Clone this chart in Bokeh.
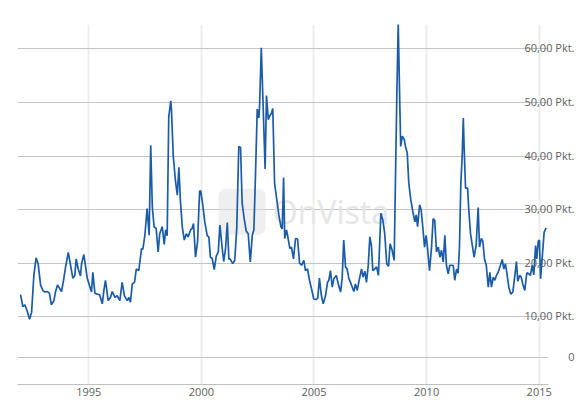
from bokeh.plotting import figure
from bokeh.models import Range1d, FixedTicker, BoxAnnotation, Label
from bokeh.core.properties import value
from bokeh.embed import file_html
from bokeh.resources import INLINE

years = [
    1991.97, 1992.07, 1992.16, 1992.26, 1992.37, 1992.46, 1992.56, 1992.66, 1992.75, 1992.86,
    1992.96, 1993.05, 1993.15, 1993.25, 1993.34, 1993.45, 1993.52, 1993.61, 1993.70, 1993.79,
    1993.89, 1993.97, 1994.09, 1994.19, 1994.29, 1994.38, 1994.44, 1994.53, 1994.63, 1994.68,
    1994.78, 1994.85, 1994.93, 1995.03, 1995.12, 1995.18, 1995.27, 1995.37, 1995.48, 1995.60,
    1995.67, 1995.74, 1995.86, 1995.96, 1996.04, 1996.16, 1996.26, 1996.38, 1996.48, 1996.59,
    1996.71, 1996.78, 1996.85, 1996.93, 1997.03, 1997.11, 1997.22, 1997.34, 1997.40, 1997.49,
    1997.59, 1997.68, 1997.75, 1997.82, 1997.90, 1997.99, 1998.08, 1998.15, 1998.26, 1998.35,
    1998.41, 1998.48, 1998.55, 1998.64, 1998.67, 1998.75, 1998.85, 1998.93, 1999.00, 1999.07,
    1999.15, 1999.24, 1999.33, 1999.41, 1999.52, 1999.59, 1999.65, 1999.74, 1999.83, 1999.92,
    1999.97, 2000.06, 2000.15, 2000.26, 2000.33, 2000.40, 2000.48, 2000.57, 2000.66, 2000.75,
    2000.82, 2000.92, 2000.99, 2001.07, 2001.15, 2001.22, 2001.29, 2001.39, 2001.48, 2001.57,
    2001.66, 2001.74, 2001.81, 2001.90, 2001.99, 2002.08, 2002.17, 2002.26, 2002.33, 2002.40,
    2002.48, 2002.55, 2002.58, 2002.66, 2002.73, 2002.79, 2002.83, 2002.89, 2002.97, 2003.02,
    2003.11, 2003.17, 2003.25, 2003.34, 2003.44, 2003.53, 2003.59, 2003.65, 2003.70, 2003.78,
    2003.85, 2003.93, 2004.00, 2004.09, 2004.18, 2004.27, 2004.36, 2004.45, 2004.55, 2004.62,
    2004.71, 2004.80, 2004.89, 2004.99, 2005.10, 2005.17, 2005.24, 2005.33, 2005.41, 2005.51,
    2005.60, 2005.66, 2005.73, 2005.81, 2005.88, 2005.99, 2006.08, 2006.18, 2006.25, 2006.32,
    2006.40, 2006.47, 2006.55, 2006.62, 2006.70, 2006.77, 2006.84, 2006.92, 2007.02, 2007.11,
    2007.18, 2007.26, 2007.33, 2007.41, 2007.48, 2007.55, 2007.61, 2007.70, 2007.78, 2007.86,
    2007.97, 2008.06, 2008.14, 2008.23, 2008.31, 2008.38, 2008.47, 2008.56, 2008.62, 2008.68,
    2008.74, 2008.80, 2008.85, 2008.92, 2009.01, 2009.06, 2009.14, 2009.21, 2009.30, 2009.39,
    2009.48, 2009.54, 2009.60, 2009.69, 2009.76, 2009.83, 2009.91, 2009.98, 2010.05, 2010.13,
    2010.22, 2010.29, 2010.36, 2010.44, 2010.52, 2010.59, 2010.66, 2010.74, 2010.81, 2010.88,
    2010.96, 2011.03, 2011.11, 2011.18, 2011.25, 2011.33, 2011.40, 2011.46, 2011.52, 2011.58,
    2011.63, 2011.67, 2011.73, 2011.82, 2011.87, 2011.95, 2012.03, 2012.11, 2012.20, 2012.29,
    2012.35, 2012.43, 2012.50, 2012.57, 2012.65, 2012.74, 2012.81, 2012.88, 2012.96, 2013.03,
    2013.10, 2013.18, 2013.28, 2013.36, 2013.43, 2013.50, 2013.58, 2013.65, 2013.74, 2013.83,
    2013.92, 2013.99, 2014.05, 2014.13, 2014.20, 2014.27, 2014.36, 2014.45, 2014.54, 2014.61,
    2014.69, 2014.76, 2014.84, 2014.89, 2014.96, 2015.01, 2015.06, 2015.13, 2015.22, 2015.31,
]

vdax = [
    14.1, 11.9, 12.2, 11.1, 9.5, 10.8, 17.7, 21.0, 19.9, 15.9,
    14.9, 14.6, 14.7, 14.4, 12.2, 13.0, 14.6, 15.9, 15.3, 14.7,
    17.1, 19.3, 22.0, 19.6, 17.2, 17.7, 20.8, 18.9, 17.6, 19.9,
    21.6, 19.6, 17.2, 15.8, 14.6, 18.3, 14.4, 14.2, 14.1, 12.4,
    14.9, 16.8, 13.0, 13.6, 14.7, 13.6, 13.9, 13.0, 16.4, 13.8,
    13.0, 13.6, 12.7, 16.1, 16.4, 18.9, 18.6, 22.7, 22.6, 25.2,
    30.2, 25.2, 42.0, 30.5, 26.8, 26.5, 22.1, 25.5, 26.8, 23.5,
    26.2, 25.1, 47.3, 50.3, 48.7, 40.0, 35.3, 32.7, 37.9, 31.5,
    26.8, 24.3, 25.5, 24.9, 26.2, 26.5, 27.4, 21.1, 24.0, 33.4,
    33.5, 30.9, 27.7, 25.1, 24.9, 21.1, 20.9, 18.8, 21.3, 22.1,
    27.1, 23.0, 20.3, 22.6, 27.6, 20.8, 20.7, 19.9, 20.5, 26.5,
    41.8, 41.6, 31.2, 28.3, 26.0, 25.5, 20.2, 25.2, 26.2, 36.2,
    48.8, 47.1, 48.9, 60.2, 50.9, 42.8, 37.6, 51.3, 46.8, 47.4,
    48.0, 48.9, 34.9, 32.1, 29.0, 26.8, 26.4, 36.0, 24.6, 26.2,
    24.6, 22.7, 23.0, 20.8, 24.6, 24.5, 20.0, 19.6, 20.5, 18.6,
    18.9, 16.8, 15.2, 13.3, 13.2, 13.5, 17.2, 13.9, 12.4, 13.9,
    16.4, 16.8, 18.6, 15.5, 17.1, 17.7, 16.1, 14.6, 17.1, 24.3,
    19.3, 18.9, 17.1, 16.4, 15.5, 14.7, 16.1, 14.9, 17.1, 18.9,
    17.4, 18.5, 16.4, 19.6, 24.9, 23.3, 18.6, 18.9, 19.3, 17.7,
    29.3, 28.0, 25.5, 19.9, 19.4, 23.6, 22.4, 20.5, 36.2, 51.8,
    64.7, 51.8, 41.8, 43.7, 43.1, 41.8, 40.6, 34.9, 31.8, 29.6,
    27.7, 29.0, 26.8, 30.9, 29.9, 26.8, 23.0, 25.2, 22.4, 18.6,
    23.0, 28.3, 28.0, 22.1, 23.0, 21.1, 22.4, 20.2, 25.2, 19.6,
    18.0, 19.6, 19.6, 19.6, 16.8, 18.9, 18.1, 23.0, 34.9, 39.9,
    47.1, 41.2, 34.0, 34.0, 30.2, 25.5, 23.3, 21.1, 23.3, 30.4,
    23.0, 24.6, 24.0, 20.8, 19.6, 15.5, 18.3, 15.5, 17.4, 16.8,
    17.7, 18.3, 19.6, 20.7, 18.9, 19.9, 17.7, 15.5, 14.2, 14.6,
    17.7, 20.3, 16.6, 17.7, 17.4, 16.1, 14.9, 18.2, 18.0, 17.7,
    19.6, 17.8, 23.3, 20.8, 24.1, 24.3, 17.1, 20.8, 25.8, 26.6,
]

x_ticks = [1995, 2000, 2005, 2010, 2015]
y_ticks = [2.35, 10, 20, 30, 40, 50, 60]
y_labels = ["0", "10,00 Pkt.", "20,00 Pkt.", "30,00 Pkt.", "40,00 Pkt.", "50,00 Pkt.", "60,00 Pkt."]

X_START, X_END = 1991.834, 2016.923
Y_START, Y_END = -2.67, 64.57
GRID_X_END = 2015.40

FONT = "Open Sans"
LABEL_COLOR = "#606060"

p = figure(width=584, height=398, output_backend="svg", toolbar_location=None,
           x_range=Range1d(X_START, X_END), y_range=Range1d(Y_START, Y_END),
           y_axis_location=None, min_border_left=17, min_border_right=2,
           min_border_top=24, min_border_bottom=0)
p.outline_line_color = None
p.background_fill_color = "white"

# vertical grid (from x axis)
p.xaxis.ticker = FixedTicker(ticks=x_ticks)
p.xgrid.ticker = FixedTicker(ticks=x_ticks)
p.xgrid.grid_line_color = "#ececec"
p.xgrid.grid_line_width = 2
p.xaxis.major_tick_line_color = None
p.xaxis.minor_tick_line_color = None
p.xaxis.major_tick_out = 0
p.xaxis.major_label_standoff = 3
p.xaxis.axis_line_color = "#c0c0c0"
p.xaxis.bounds = (X_START, GRID_X_END)
p.xaxis.major_label_text_font = FONT
p.xaxis.major_label_text_font_size = "11px"
p.xaxis.major_label_text_color = LABEL_COLOR

# horizontal grid
p.ygrid.ticker = FixedTicker(ticks=y_ticks)
p.ygrid.grid_line_color = "#c4c4c4"
p.ygrid.grid_line_width = 1

# blank area right of the grid, behind the value labels
p.add_layout(BoxAnnotation(left=GRID_X_END, right=X_END, fill_color="white", fill_alpha=1.0,
                           line_color=None, level="underlay"))

# watermark
box_kwargs = dict(left=2000.76, right=2002.85, bottom=25.3, top=33.9,
                  fill_color="#e4e4e4", fill_alpha=0.6, line_color=None, level="underlay")
if "border_radius" in BoxAnnotation.properties():
    box_kwargs["border_radius"] = 7
p.add_layout(BoxAnnotation(**box_kwargs))
p.add_layout(Label(x=2005.75, y=29.6, text="OnVista", text_align="center",
                   text_baseline="middle", text_font=FONT, text_font_size="32px",
                   text_color="#e6e6e6", level="underlay"))

# y labels inside the frame, right-aligned
p.text(x=[X_END] * len(y_ticks), y=y_ticks, text=y_labels, text_align="right",
       text_baseline="alphabetic", x_offset=-8, y_offset=-1,
       text_font=value(FONT), text_font_size="11px", text_color=LABEL_COLOR)

p.line(years, vdax, line_color="#1b5ca8", line_width=1.7)

open("out.html", "w").write(file_html(p, INLINE))
